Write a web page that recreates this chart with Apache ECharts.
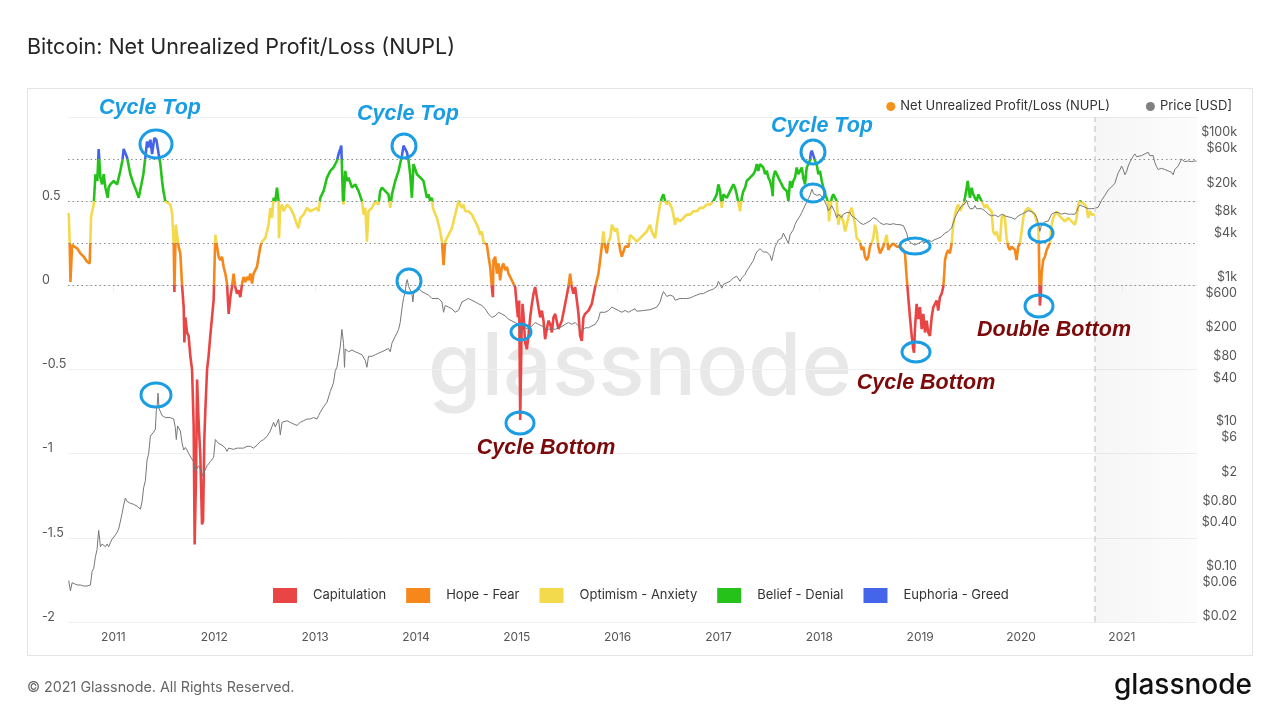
<!DOCTYPE html>
<html>
<head>
<meta charset="utf-8">
<script src="https://cdn.jsdelivr.net/npm/echarts@6/dist/echarts.min.js"></script>
<style>
html,body{margin:0;padding:0;background:#fff;}
#chart{width:1280px;height:720px;}
</style>
</head>
<body>
<div id="chart"></div>
<script>
// ---- Data (decimal year, value) ----
const nuplPoints = [
[2010.557,0.43],[2010.567,0.25],[2010.574,0.02],[2010.591,0.24],[2010.613,0.23],[2010.640,0.22],[2010.673,0.19],[2010.706,0.17],[2010.739,0.14],[2010.765,0.13],[2010.779,0.41],[2010.805,0.48],[2010.822,0.66],[2010.841,0.62],[2010.854,0.81],[2010.871,0.64],[2010.888,0.60],[2010.904,0.66],[2010.921,0.58],[2010.944,0.52],[2010.953,0.58],[2010.970,0.60],[2011.003,0.62],[2011.037,0.60],[2011.069,0.68],[2011.089,0.74],[2011.102,0.81],[2011.119,0.80],[2011.136,0.76],[2011.168,0.66],[2011.201,0.60],[2011.228,0.56],[2011.251,0.52],[2011.278,0.60],[2011.297,0.66],[2011.317,0.76],[2011.334,0.855],[2011.347,0.82],[2011.367,0.865],[2011.384,0.78],[2011.406,0.875],[2011.426,0.865],[2011.439,0.865],[2011.449,0.78],[2011.466,0.72],[2011.483,0.62],[2011.496,0.56],[2011.515,0.50],[2011.532,0.49],[2011.565,0.48],[2011.582,0.43],[2011.598,0.25],[2011.605,-0.04],[2011.619,0.36],[2011.634,0.29],[2011.647,0.23],[2011.664,0.19],[2011.681,0.00],[2011.697,-0.13],[2011.704,-0.34],[2011.714,-0.19],[2011.730,-0.28],[2011.746,-0.30],[2011.763,-0.42],[2011.780,-0.50],[2011.796,-0.83],[2011.806,-1.54],[2011.820,-1.11],[2011.830,-0.56],[2011.845,-0.81],[2011.862,-1.01],[2011.879,-1.42],[2011.889,-1.40],[2011.902,-0.91],[2011.912,-0.74],[2011.929,-0.50],[2011.944,-0.42],[2011.961,-0.30],[2011.978,-0.19],[2011.994,-0.09],[2012.011,0.30],[2012.028,0.23],[2012.044,0.17],[2012.060,0.15],[2012.077,0.17],[2012.093,0.11],[2012.110,0.07],[2012.127,0.01],[2012.143,-0.17],[2012.160,-0.07],[2012.176,-0.01],[2012.192,0.07],[2012.209,-0.01],[2012.226,-0.05],[2012.242,-0.03],[2012.259,-0.07],[2012.276,0.01],[2012.291,0.05],[2012.308,0.02],[2012.325,0.05],[2012.341,0.03],[2012.358,0.07],[2012.375,0.01],[2012.390,0.07],[2012.424,0.11],[2012.457,0.23],[2012.474,0.26],[2012.506,0.28],[2012.539,0.36],[2012.556,0.46],[2012.573,0.40],[2012.589,0.52],[2012.606,0.50],[2012.622,0.58],[2012.638,0.50],[2012.642,0.28],[2012.655,0.46],[2012.672,0.48],[2012.688,0.44],[2012.722,0.48],[2012.754,0.46],[2012.787,0.42],[2012.821,0.36],[2012.836,0.34],[2012.853,0.40],[2012.886,0.42],[2012.920,0.46],[2012.952,0.44],[2012.985,0.45],[2013.019,0.46],[2013.035,0.44],[2013.052,0.52],[2013.084,0.56],[2013.118,0.64],[2013.151,0.68],[2013.183,0.70],[2013.217,0.74],[2013.233,0.78],[2013.250,0.81],[2013.260,0.83],[2013.277,0.50],[2013.282,0.48],[2013.299,0.68],[2013.316,0.62],[2013.332,0.64],[2013.366,0.58],[2013.398,0.60],[2013.431,0.56],[2013.465,0.50],[2013.481,0.42],[2013.498,0.46],[2013.514,0.26],[2013.530,0.44],[2013.564,0.46],[2013.597,0.50],[2013.629,0.48],[2013.646,0.56],[2013.663,0.58],[2013.696,0.56],[2013.728,0.54],[2013.745,0.46],[2013.762,0.54],[2013.795,0.62],[2013.828,0.68],[2013.861,0.77],[2013.877,0.83],[2013.894,0.83],[2013.911,0.79],[2013.927,0.74],[2013.943,0.66],[2013.960,0.52],[2013.976,0.72],[2014.010,0.66],[2014.043,0.64],[2014.075,0.62],[2014.109,0.52],[2014.125,0.54],[2014.142,0.50],[2014.159,0.52],[2014.168,0.46],[2014.208,0.40],[2014.241,0.32],[2014.258,0.26],[2014.274,0.12],[2014.290,0.26],[2014.323,0.30],[2014.357,0.34],[2014.389,0.42],[2014.422,0.50],[2014.456,0.46],[2014.472,0.48],[2014.489,0.44],[2014.521,0.44],[2014.555,0.42],[2014.588,0.38],[2014.620,0.34],[2014.637,0.30],[2014.654,0.32],[2014.670,0.26],[2014.704,0.24],[2014.720,0.17],[2014.736,0.11],[2014.753,-0.01],[2014.763,-0.07],[2014.769,0.15],[2014.786,0.17],[2014.803,0.07],[2014.819,0.13],[2014.835,0.03],[2014.852,0.11],[2014.868,0.13],[2014.885,0.09],[2014.902,0.11],[2014.918,0.07],[2014.951,0.03],[2014.967,0.01],[2014.984,-0.01],[2015.001,-0.13],[2015.011,-0.19],[2015.024,-0.09],[2015.034,-0.80],[2015.047,-0.30],[2015.057,-0.11],[2015.066,-0.17],[2015.083,-0.34],[2015.100,-0.38],[2015.116,-0.30],[2015.133,-0.19],[2015.150,-0.11],[2015.166,-0.05],[2015.182,-0.01],[2015.199,-0.07],[2015.215,-0.13],[2015.232,-0.19],[2015.249,-0.15],[2015.265,-0.21],[2015.281,-0.32],[2015.298,-0.26],[2015.314,-0.21],[2015.331,-0.23],[2015.348,-0.28],[2015.364,-0.19],[2015.381,-0.17],[2015.413,-0.26],[2015.447,-0.21],[2015.480,-0.11],[2015.512,-0.01],[2015.529,0.07],[2015.546,-0.01],[2015.562,-0.05],[2015.579,-0.01],[2015.596,-0.09],[2015.612,-0.17],[2015.628,-0.30],[2015.645,-0.33],[2015.661,-0.19],[2015.678,-0.17],[2015.711,-0.15],[2015.744,-0.11],[2015.777,-0.01],[2015.810,0.07],[2015.843,0.23],[2015.859,0.32],[2015.876,0.23],[2015.893,0.19],[2015.909,0.26],[2015.926,0.28],[2015.943,0.36],[2015.958,0.34],[2015.975,0.32],[2015.992,0.34],[2016.008,0.28],[2016.025,0.21],[2016.042,0.17],[2016.074,0.23],[2016.107,0.23],[2016.124,0.30],[2016.157,0.28],[2016.190,0.26],[2016.223,0.28],[2016.256,0.30],[2016.289,0.32],[2016.305,0.34],[2016.322,0.36],[2016.339,0.32],[2016.355,0.30],[2016.372,0.28],[2016.389,0.36],[2016.404,0.42],[2016.421,0.48],[2016.438,0.52],[2016.454,0.54],[2016.471,0.50],[2016.488,0.48],[2016.503,0.50],[2016.520,0.48],[2016.537,0.46],[2016.553,0.42],[2016.570,0.36],[2016.587,0.40],[2016.619,0.38],[2016.652,0.40],[2016.686,0.42],[2016.719,0.42],[2016.751,0.44],[2016.785,0.44],[2016.818,0.46],[2016.850,0.46],[2016.884,0.48],[2016.917,0.48],[2016.949,0.50],[2016.966,0.52],[2016.983,0.54],[2016.999,0.60],[2017.016,0.56],[2017.033,0.46],[2017.049,0.54],[2017.082,0.52],[2017.115,0.56],[2017.148,0.60],[2017.164,0.58],[2017.181,0.54],[2017.214,0.44],[2017.231,0.52],[2017.247,0.56],[2017.264,0.58],[2017.280,0.62],[2017.313,0.64],[2017.346,0.66],[2017.363,0.68],[2017.380,0.72],[2017.395,0.68],[2017.412,0.72],[2017.429,0.73],[2017.445,0.70],[2017.462,0.66],[2017.479,0.68],[2017.495,0.64],[2017.511,0.62],[2017.528,0.58],[2017.538,0.53],[2017.544,0.64],[2017.561,0.68],[2017.578,0.66],[2017.594,0.64],[2017.610,0.62],[2017.627,0.60],[2017.643,0.58],[2017.677,0.56],[2017.693,0.50],[2017.710,0.62],[2017.726,0.58],[2017.742,0.62],[2017.759,0.64],[2017.776,0.70],[2017.792,0.66],[2017.809,0.68],[2017.826,0.70],[2017.841,0.64],[2017.858,0.60],[2017.875,0.70],[2017.891,0.72],[2017.908,0.745],[2017.915,0.785],[2017.925,0.80],[2017.941,0.77],[2017.957,0.74],[2017.974,0.72],[2017.990,0.66],[2018.007,0.68],[2018.024,0.62],[2018.040,0.58],[2018.056,0.54],[2018.073,0.52],[2018.089,0.48],[2018.096,0.38],[2018.106,0.44],[2018.123,0.52],[2018.139,0.54],[2018.156,0.52],[2018.172,0.50],[2018.188,0.36],[2018.205,0.42],[2018.238,0.38],[2018.255,0.32],[2018.272,0.36],[2018.287,0.40],[2018.304,0.44],[2018.321,0.46],[2018.337,0.42],[2018.354,0.36],[2018.371,0.28],[2018.403,0.26],[2018.420,0.21],[2018.436,0.23],[2018.453,0.17],[2018.470,0.15],[2018.486,0.17],[2018.502,0.23],[2018.535,0.28],[2018.552,0.36],[2018.569,0.32],[2018.585,0.23],[2018.602,0.19],[2018.634,0.23],[2018.668,0.30],[2018.684,0.21],[2018.701,0.23],[2018.733,0.25],[2018.767,0.23],[2018.800,0.23],[2018.833,0.21],[2018.849,0.19],[2018.866,0.05],[2018.882,-0.07],[2018.899,-0.19],[2018.916,-0.30],[2018.932,-0.38],[2018.939,-0.40],[2018.948,-0.26],[2018.965,-0.11],[2018.981,-0.20],[2018.998,-0.13],[2019.015,-0.26],[2019.031,-0.17],[2019.048,-0.28],[2019.064,-0.21],[2019.080,-0.28],[2019.097,-0.30],[2019.114,-0.19],[2019.130,-0.13],[2019.147,-0.13],[2019.163,-0.09],[2019.179,-0.15],[2019.196,-0.07],[2019.213,-0.05],[2019.229,-0.01],[2019.239,0.07],[2019.246,0.15],[2019.262,0.19],[2019.278,0.21],[2019.295,0.19],[2019.312,0.25],[2019.328,0.36],[2019.345,0.42],[2019.362,0.46],[2019.378,0.48],[2019.394,0.44],[2019.411,0.46],[2019.427,0.48],[2019.444,0.52],[2019.461,0.58],[2019.471,0.62],[2019.484,0.56],[2019.494,0.52],[2019.510,0.58],[2019.526,0.54],[2019.543,0.52],[2019.560,0.50],[2019.576,0.54],[2019.593,0.52],[2019.609,0.50],[2019.625,0.48],[2019.642,0.46],[2019.659,0.48],[2019.675,0.46],[2019.708,0.44],[2019.724,0.32],[2019.741,0.30],[2019.758,0.32],[2019.774,0.28],[2019.791,0.26],[2019.808,0.40],[2019.824,0.42],[2019.840,0.40],[2019.857,0.28],[2019.873,0.23],[2019.890,0.21],[2019.907,0.23],[2019.940,0.21],[2019.956,0.15],[2019.972,0.23],[2019.989,0.25],[2020.006,0.32],[2020.022,0.40],[2020.039,0.44],[2020.071,0.46],[2020.105,0.44],[2020.138,0.42],[2020.155,0.38],[2020.171,0.36],[2020.177,0.23],[2020.187,-0.12],[2020.197,-0.05],[2020.204,0.07],[2020.220,0.15],[2020.237,0.17],[2020.254,0.21],[2020.270,0.23],[2020.286,0.25],[2020.303,0.36],[2020.319,0.40],[2020.336,0.42],[2020.353,0.44],[2020.369,0.42],[2020.402,0.40],[2020.435,0.38],[2020.468,0.40],[2020.501,0.38],[2020.534,0.36],[2020.551,0.40],[2020.567,0.48],[2020.584,0.50],[2020.601,0.49],[2020.633,0.48],[2020.650,0.46],[2020.666,0.40],[2020.683,0.44],[2020.700,0.42],[2020.716,0.43],[2020.732,0.42]
];

const pricePoints = [
[2010.557,0.075],[2010.574,0.054],[2010.591,0.07],[2010.607,0.067],[2010.640,0.065],[2010.673,0.065],[2010.706,0.063],[2010.739,0.063],[2010.772,0.065],[2010.789,0.10],[2010.805,0.11],[2010.822,0.16],[2010.838,0.20],[2010.854,0.37],[2010.864,0.28],[2010.871,0.22],[2010.888,0.24],[2010.904,0.25],[2010.921,0.22],[2010.938,0.24],[2010.953,0.22],[2010.970,0.25],[2010.987,0.28],[2011.003,0.29],[2011.020,0.32],[2011.037,0.35],[2011.053,0.39],[2011.069,0.41],[2011.086,0.63],[2011.102,0.83],[2011.119,1.04],[2011.136,0.93],[2011.168,0.88],[2011.201,0.85],[2011.235,0.80],[2011.268,0.73],[2011.284,0.92],[2011.300,1.44],[2011.317,1.8],[2011.334,3.5],[2011.350,4.3],[2011.367,7.5],[2011.384,7.9],[2011.399,8.5],[2011.416,9.3],[2011.426,17],[2011.433,19],[2011.443,29.4],[2011.453,18],[2011.466,19],[2011.483,14.4],[2011.499,14.4],[2011.515,13.5],[2011.532,12.9],[2011.565,13.5],[2011.598,12.9],[2011.614,9.8],[2011.624,6.7],[2011.637,10.3],[2011.647,9.8],[2011.664,8.8],[2011.681,6.0],[2011.697,4.8],[2011.714,5.2],[2011.730,4.8],[2011.746,4.3],[2011.763,4.1],[2011.796,3.3],[2011.813,2.4],[2011.830,2.7],[2011.845,2.9],[2011.862,2.6],[2011.879,2.5],[2011.889,2.1],[2011.912,2.6],[2011.929,2.9],[2011.961,3.3],[2011.994,3.8],[2012.011,6.7],[2012.028,6.4],[2012.044,5.9],[2012.060,6.1],[2012.077,5.6],[2012.093,5.9],[2012.110,5.1],[2012.127,4.6],[2012.143,5.1],[2012.160,4.9],[2012.192,4.9],[2012.226,5.1],[2012.259,5.1],[2012.291,5.1],[2012.325,5.4],[2012.358,5.4],[2012.390,5.1],[2012.424,5.6],[2012.457,6.3],[2012.490,6.7],[2012.523,7.4],[2012.556,8.8],[2012.589,11.6],[2012.606,10.0],[2012.638,12.9],[2012.655,7.8],[2012.672,11.6],[2012.688,11.6],[2012.722,12.2],[2012.754,11.6],[2012.787,11.0],[2012.821,10.5],[2012.836,11.0],[2012.853,11.6],[2012.886,12.2],[2012.920,12.9],[2012.952,12.9],[2012.985,13.5],[2013.019,12.9],[2013.035,14.4],[2013.052,16.0],[2013.084,19.0],[2013.118,22.0],[2013.151,31.0],[2013.183,41.0],[2013.200,60],[2013.217,67],[2013.233,93],[2013.250,129],[2013.266,224],[2013.282,144],[2013.292,67],[2013.299,120],[2013.316,116],[2013.332,110],[2013.366,116],[2013.398,110],[2013.431,105],[2013.465,100],[2013.498,83],[2013.514,67],[2013.530,95],[2013.547,90],[2013.564,95],[2013.597,100],[2013.629,105],[2013.663,110],[2013.696,116],[2013.728,122],[2013.745,110],[2013.762,144],[2013.795,180],[2013.812,200],[2013.828,224],[2013.844,279],[2013.861,432],[2013.877,600],[2013.894,748],[2013.904,984],[2013.914,1097],[2013.927,881],[2013.943,830],[2013.960,708],[2013.970,537],[2013.980,748],[2013.993,789],[2014.026,830],[2014.059,748],[2014.092,708],[2014.125,670],[2014.159,600],[2014.174,630],[2014.224,600],[2014.258,537],[2014.274,387],[2014.290,480],[2014.323,456],[2014.357,432],[2014.389,387],[2014.422,410],[2014.456,537],[2014.489,568],[2014.521,600],[2014.555,568],[2014.588,537],[2014.620,508],[2014.654,480],[2014.687,432],[2014.720,366],[2014.753,328],[2014.786,345],[2014.819,387],[2014.852,366],[2014.885,345],[2014.918,310],[2014.951,294],[2014.984,278],[2015.017,263],[2015.034,200],[2015.051,250],[2015.083,236],[2015.116,224],[2015.150,250],[2015.182,279],[2015.215,263],[2015.249,250],[2015.281,236],[2015.314,224],[2015.348,230],[2015.381,224],[2015.413,236],[2015.447,245],[2015.480,263],[2015.512,279],[2015.546,263],[2015.579,279],[2015.612,250],[2015.625,224],[2015.645,212],[2015.678,236],[2015.711,236],[2015.744,250],[2015.777,263],[2015.810,310],[2015.827,387],[2015.843,366],[2015.876,387],[2015.909,410],[2015.943,456],[2015.975,432],[2016.008,410],[2016.042,387],[2016.074,410],[2016.107,387],[2016.141,410],[2016.173,432],[2016.190,400],[2016.256,409],[2016.322,420],[2016.389,456],[2016.421,537],[2016.438,650],[2016.454,748],[2016.471,720],[2016.488,640],[2016.520,670],[2016.553,640],[2016.570,568],[2016.587,600],[2016.619,600],[2016.652,600],[2016.686,600],[2016.719,610],[2016.751,640],[2016.785,670],[2016.818,700],[2016.850,700],[2016.884,748],[2016.917,780],[2016.949,810],[2016.966,850],[2016.983,881],[2016.999,1038],[2017.016,940],[2017.033,833],[2017.049,940],[2017.082,990],[2017.115,1038],[2017.148,1158],[2017.181,1220],[2017.214,1038],[2017.231,1158],[2017.247,1220],[2017.264,1293],[2017.280,1443],[2017.313,1701],[2017.346,2005],[2017.363,2365],[2017.380,2637],[2017.412,2943],[2017.445,2637],[2017.462,2500],[2017.479,2637],[2017.511,2365],[2017.528,2005],[2017.538,1897],[2017.544,2500],[2017.561,3115],[2017.578,3470],[2017.594,3874],[2017.610,3680],[2017.627,4100],[2017.643,4820],[2017.660,4570],[2017.677,3874],[2017.693,3470],[2017.710,4570],[2017.726,4820],[2017.742,5380],[2017.759,6340],[2017.776,7080],[2017.792,6700],[2017.809,8340],[2017.826,9300],[2017.841,9840],[2017.858,11600],[2017.875,12900],[2017.891,14400],[2017.908,16100],[2017.918,18000],[2017.928,19500],[2017.941,17000],[2017.957,18000],[2017.974,16100],[2017.990,17000],[2018.007,16500],[2018.024,16100],[2018.040,14400],[2018.056,12900],[2018.073,11600],[2018.089,9840],[2018.106,10500],[2018.123,11600],[2018.139,11000],[2018.156,9300],[2018.172,7900],[2018.188,8810],[2018.205,8340],[2018.222,7900],[2018.238,8810],[2018.272,9300],[2018.287,8810],[2018.304,9300],[2018.321,8340],[2018.337,7900],[2018.371,7480],[2018.403,6700],[2018.436,6340],[2018.470,6700],[2018.502,7080],[2018.535,7900],[2018.569,7480],[2018.602,6700],[2018.634,6340],[2018.668,6500],[2018.701,6340],[2018.733,6500],[2018.767,6340],[2018.800,6300],[2018.833,6140],[2018.849,6000],[2018.866,4820],[2018.882,3870],[2018.899,3680],[2018.916,3470],[2018.932,3300],[2018.948,3300],[2018.981,3470],[2019.015,3680],[2019.048,3560],[2019.080,3870],[2019.114,3680],[2019.147,3950],[2019.179,4080],[2019.213,4320],[2019.246,4820],[2019.278,5090],[2019.295,5380],[2019.312,5700],[2019.328,6700],[2019.345,7900],[2019.362,8810],[2019.378,9840],[2019.394,10500],[2019.411,11600],[2019.427,11000],[2019.444,12300],[2019.461,13700],[2019.477,11600],[2019.494,10500],[2019.510,11000],[2019.526,10500],[2019.543,11600],[2019.560,10500],[2019.576,11000],[2019.609,10500],[2019.642,9840],[2019.675,8810],[2019.708,8340],[2019.741,8600],[2019.774,8100],[2019.791,7900],[2019.808,8810],[2019.840,8340],[2019.873,8100],[2019.907,7900],[2019.940,7480],[2019.972,8340],[2020.006,8810],[2020.039,9300],[2020.071,9840],[2020.105,9600],[2020.138,8810],[2020.155,7900],[2020.171,6700],[2020.187,5090],[2020.204,6340],[2020.220,6700],[2020.237,6900],[2020.270,7080],[2020.286,7480],[2020.303,8810],[2020.336,9300],[2020.369,9300],[2020.402,8810],[2020.435,9100],[2020.468,8810],[2020.501,8810],[2020.534,8810],[2020.551,9600],[2020.567,10960],[2020.584,11800],[2020.601,11600],[2020.633,11000],[2020.666,10500],[2020.700,10500],[2020.732,10600],[2020.765,11000],[2020.799,13700],[2020.832,16100],[2020.864,19000],[2020.898,21000],[2020.931,23600],[2020.947,28000],[2020.963,32800],[2020.980,36000],[2020.997,40900],[2021.013,36600],[2021.030,31000],[2021.046,34000],[2021.063,40900],[2021.079,46000],[2021.096,50900],[2021.112,56000],[2021.129,60100],[2021.146,55000],[2021.162,56500],[2021.195,57000],[2021.228,60100],[2021.261,63400],[2021.277,57000],[2021.294,60000],[2021.310,57000],[2021.327,45600],[2021.344,40000],[2021.360,36600],[2021.393,38000],[2021.426,36600],[2021.459,35000],[2021.492,33500],[2021.508,31000],[2021.525,36600],[2021.558,40900],[2021.575,43500],[2021.592,50900],[2021.624,47000],[2021.657,48000],[2021.691,47000],[2021.707,45600],[2021.724,48200],[2021.740,47500]
];

const yearTicks = [2011,2012,2013,2014,2015,2016,2017,2018,2019,2020,2021];
const nuplTicks = [-2,-1.5,-1,-0.5,0,0.5];
const priceTicks = [0.02,0.06,0.1,0.4,0.8,2,6,10,40,80,200,600,1000,4000,8000,20000,60000,100000];
const zoneThresholds = [0,0.25,0.5,0.75];
const zoneNames = ['Capitulation','Hope - Fear','Optimism - Anxiety','Belief - Denial','Euphoria - Greed'];
const zoneColors = ['#ea4545','#f5871b','#f3d94c','#25c31a','#4465ea'];
const xRange = [2010.55, 2021.745];
const priceRange = [0.02, 195000];
const forecastStart = 2020.732;

// ---- Chart ----
const chart = echarts.init(document.getElementById('chart'), null, {renderer: 'canvas'});
const FONT = 'Inter, "Noto Sans", Roboto, sans-serif';
const ANN = '"Liberation Sans", Arial, sans-serif';
const topBlue = '#1a9de2';
const botRed = '#7d0a0a';

function fmtPrice(v) {
  const p = Math.pow(10, v);
  if (p >= 1000) return '$' + Math.round(p / 1000) + 'k';
  if (p >= 1) return '$' + Math.round(p);
  return '$' + p.toFixed(2);
}

const pieces = [
  {lt: zoneThresholds[0], label: zoneNames[0], color: zoneColors[0]},
  {gte: zoneThresholds[0], lt: zoneThresholds[1], label: zoneNames[1], color: zoneColors[1]},
  {gte: zoneThresholds[1], lt: zoneThresholds[2], label: zoneNames[2], color: zoneColors[2]},
  {gte: zoneThresholds[2], lt: zoneThresholds[3], label: zoneNames[3], color: zoneColors[3]},
  {gte: zoneThresholds[3], label: zoneNames[4], color: zoneColors[4]}
];

const ellipses = [
  [156,144,16,14],[404,146,12,12],[813,152,12,12],[813,193,12,9],
  [409,281,12,12],[156,395,15,12],[521,332,10,8],[520,423,14,11],
  [915,246,15,8],[916,352,14,10],[1041,233,12,9],[1039,306,14,11]
];
const annTexts = [
  ['Cycle Top',150,108,topBlue],['Cycle Top',408,114,topBlue],['Cycle Top',822,126,topBlue],
  ['Cycle Bottom',546,448,botRed],['Cycle Bottom',926,383,botRed],['Double Bottom',1054,330,botRed]
];

const graphics = [
  {type:'rect', silent:true, z:0, shape:{x:27.5,y:88.5,width:1225,height:567}, style:{fill:'none',stroke:'#e4e4e4',lineWidth:1}},
  {type:'text', silent:true, z:0, style:{text:'glassnode', x:640, y:369, align:'center', verticalAlign:'middle', textAlign:'center', textVerticalAlign:'middle', font:'500 86px ' + FONT, fill:'#e8e8e8'}},
  {type:'text', silent:true, style:{text:'\u00a9 2021 Glassnode. All Rights Reserved.', x:27, y:688, verticalAlign:'middle', textVerticalAlign:'middle', font:'14.3px ' + FONT, fill:'#666'}},
  {type:'text', silent:true, style:{text:'glassnode', x:1252, y:686, align:'right', textAlign:'right', verticalAlign:'middle', textVerticalAlign:'middle', font:'500 28px ' + FONT, fill:'#111'}}
];
ellipses.forEach(e => graphics.push({type:'ellipse', silent:true, z:100, shape:{cx:e[0],cy:e[1],rx:e[2],ry:e[3]}, style:{fill:'none',stroke:topBlue,lineWidth:3}}));
annTexts.forEach(t => graphics.push({type:'text', silent:true, z:100, style:{text:t[0], x:t[1], y:t[2], align:'center', textAlign:'center', verticalAlign:'middle', textVerticalAlign:'middle', font:'italic bold 21.5px ' + ANN, fill:t[3]}}));

const option = {
  animation: false,
  backgroundColor: '#ffffff',
  textStyle: {fontFamily: FONT},
  title: {
    text: 'Bitcoin: Net Unrealized Profit/Loss (NUPL)',
    left: 22, top: 32,
    textStyle: {fontSize: 21.5, fontWeight: 'normal', color: '#262626', fontFamily: FONT}
  },
  legend: {
    right: 43, top: 95,
    icon: 'circle', itemWidth: 9, itemHeight: 9, itemGap: 36,
    textStyle: {fontSize: 13, color: '#333', fontFamily: FONT},
    data: [
      {name: 'Net Unrealized Profit/Loss (NUPL)', itemStyle: {color: '#f7931a'}},
      {name: 'Price [USD]', itemStyle: {color: '#808080'}}
    ],
    selectedMode: false
  },
  visualMap: {
    type: 'piecewise',
    seriesIndex: 0,
    dimension: 1,
    orient: 'horizontal',
    left: 258, top: 573,
    itemWidth: 24, itemHeight: 15,
    itemGap: 20, textGap: 16,
    itemSymbol: 'rect',
    selectedMode: false,
    textStyle: {fontSize: 13, color: '#333', fontFamily: FONT},
    pieces: pieces
  },
  grid: {left: 68, right: 83, top: 117, bottom: 98, containLabel: false},
  xAxis: {
    type: 'value', min: xRange[0], max: xRange[1],
    splitLine: {show: false},
    axisLine: {show: false},
    axisTick: {show: true, customValues: yearTicks, length: 6, lineStyle: {color: '#eeeeee'}},
    axisLabel: {customValues: yearTicks, formatter: v => String(Math.round(v)), color: '#555', fontSize: 12, margin: 9, fontFamily: FONT}
  },
  yAxis: [
    {
      type: 'value', min: -2, max: 1, interval: 0.5, position: 'left',
      axisLine: {show: false}, axisTick: {show: false},
      splitLine: {show: true, lineStyle: {color: '#efefef', width: 1}},
      axisLabel: {customValues: nuplTicks, formatter: v => String(v), align: 'left', margin: 26, verticalAlign: 'bottom', lineHeight: 10, color: '#555', fontSize: 12.5, fontFamily: FONT}
    },
    {
      type: 'value', min: Math.log10(priceRange[0]), max: Math.log10(priceRange[1]), position: 'right',
      axisLine: {show: false}, axisTick: {show: false}, splitLine: {show: false},
      axisLabel: {customValues: priceTicks.map(p => Math.log10(p)), formatter: fmtPrice, align: 'right', margin: 40, verticalAlign: 'bottom', lineHeight: 11, color: '#555', fontSize: 12.5, fontFamily: FONT}
    }
  ],
  series: [
    {
      name: 'Net Unrealized Profit/Loss (NUPL)',
      type: 'line', xAxisIndex: 0, yAxisIndex: 0,
      data: nuplPoints,
      showSymbol: false, symbol: 'none',
      lineStyle: {width: 2.6},
      z: 3,
      markLine: {
        silent: true, symbol: 'none', label: {show: false},
        data: zoneThresholds.map(v => ({yAxis: v, lineStyle: {type: [1.5, 3], color: '#8c8c8c', width: 1}}))
          .concat([{xAxis: forecastStart, lineStyle: {type: [6, 4], color: '#d2d2d2', width: 1.5}}])
      },
      markArea: {
        silent: true,
        itemStyle: {color: new echarts.graphic.LinearGradient(0, 0, 1, 0, [{offset: 0, color: 'rgba(0,0,0,0.035)'}, {offset: 1, color: 'rgba(0,0,0,0.012)'}])},
        data: [[{xAxis: forecastStart}, {xAxis: xRange[1]}]]
      }
    },
    {
      name: 'Price [USD]',
      type: 'line', xAxisIndex: 0, yAxisIndex: 1,
      data: pricePoints.map(p => [p[0], Math.log10(p[1])]),
      showSymbol: false, symbol: 'none',
      lineStyle: {width: 1, color: '#777777'},
      itemStyle: {color: '#808080'},
      z: 4
    }
  ],
  graphic: graphics
};
chart.setOption(option);
</script>
</body>
</html>
